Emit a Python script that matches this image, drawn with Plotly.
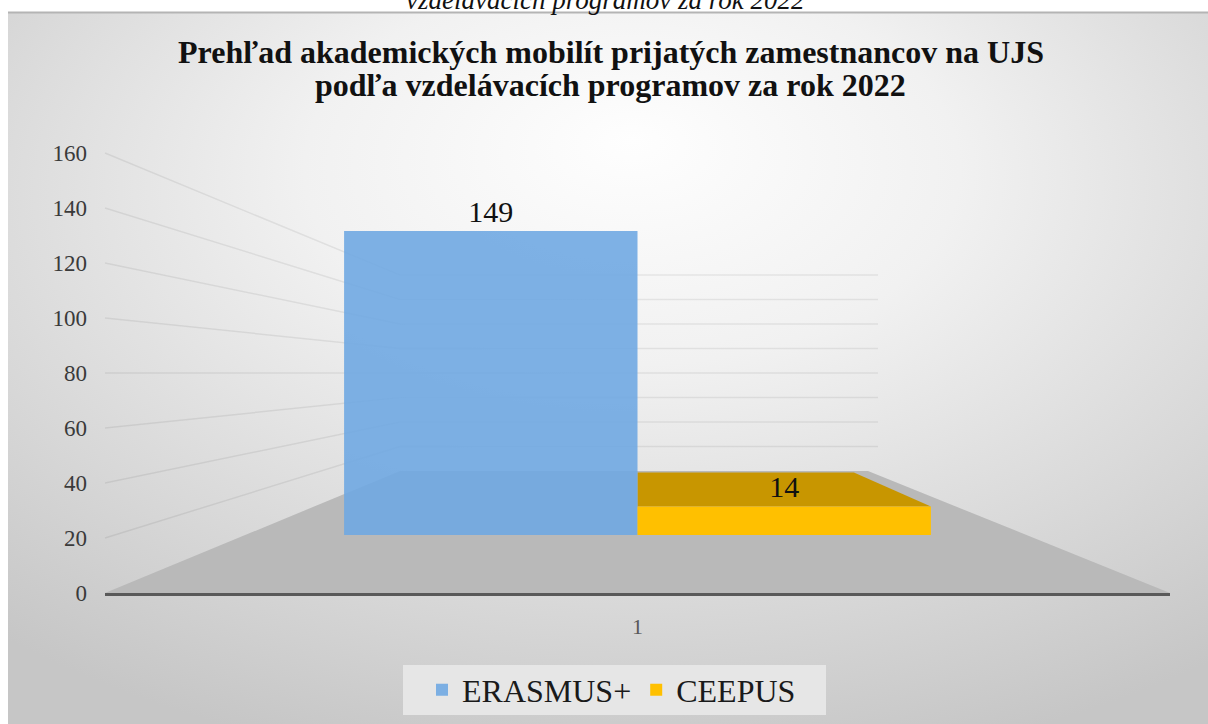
import urllib.parse
import plotly.graph_objects as go

# ---------------- data ----------------
categories = ["1"]
series_names = ["ERASMUS+", "CEEPUS"]
erasmus_values = [149]
ceepus_values = [14]
y_tick_values = [0, 20, 40, 60, 80, 100, 120, 140, 160]
title_lines = ["Prehľad akademických mobilít prijatých zamestnancov na UJS",
               "podľa vzdelávacích programov za rok 2022"]
caption_text = "vzdelávacích programov za rok 2022"

# ---------------- geometry / style (pixels) ----------------
W, H = 1208, 724
FRONT_LEFT, FRONT_RIGHT, FRONT_BASE, FRONT_TOP = 105, 1170, 593, 153
BACK_LEFT, BACK_RIGHT, BACK_BASE = 400, 868, 471
BACK_PX_PER_UNIT = 1.225
BAR_BASE = 535
BAR_PX_PER_UNIT = 2.04
DEPTH_DY, DEPTH_DX = 34, 77
BARGAP = 0.449

FONT = "Liberation Serif, Times New Roman, serif"


def px(x):
    return x / W


def py(y):
    return 1 - y / H


y_max = max(y_tick_values)
front_px_per_unit = (FRONT_BASE - FRONT_TOP) / y_max
bar_range_top = (BAR_BASE - FRONT_TOP) / BAR_PX_PER_UNIT


def front_y(v):
    return FRONT_BASE - v * front_px_per_unit


def back_y(v):
    return BACK_BASE - v * BACK_PX_PER_UNIT


def bar_y(v):
    return BAR_BASE - v * BAR_PX_PER_UNIT


cat_px = FRONT_RIGHT - FRONT_LEFT
bar_w_px = (1 - BARGAP) * cat_px / 2
cat_center = FRONT_LEFT + cat_px / 2

fig = go.Figure()
colors = ["rgba(112,168,226,0.9)", "#ffc000"]
for name, vals, col in zip(series_names, [erasmus_values, ceepus_values], colors):
    fig.add_trace(go.Bar(
        x=categories, y=vals, name=name, xaxis="x", yaxis="y2",
        marker=dict(color=col, line=dict(width=0)),
        texttemplate="%{y}", textposition="outside", cliponaxis=False,
        textfont=dict(family=FONT, size=30, color="#111111"),
    ))
# invisible trace so that the front value axis (ticks 0..160) is drawn
fig.add_trace(go.Scatter(x=categories, y=[y_max], xaxis="x", yaxis="y", mode="markers",
                         marker=dict(opacity=0), showlegend=False, hoverinfo="skip"))

shapes = []
# floor
shapes.append(dict(
    type="path", xref="paper", yref="paper", layer="below",
    path=f"M {px(FRONT_LEFT)},{py(FRONT_BASE)} L {px(BACK_LEFT)},{py(BACK_BASE)} "
         f"L {px(BACK_RIGHT)},{py(BACK_BASE)} L {px(FRONT_RIGHT)},{py(FRONT_BASE)} Z",
    fillcolor="#b9b9b9", line=dict(width=0)))
# wall gridlines
for v in y_tick_values[1:]:
    shapes.append(dict(type="line", xref="paper", yref="paper", layer="below",
                       x0=px(FRONT_LEFT), y0=py(front_y(v)), x1=px(BACK_LEFT), y1=py(back_y(v)),
                       line=dict(color="rgba(0,0,0,0.07)", width=1.5)))
    shapes.append(dict(type="line", xref="paper", yref="paper", layer="below",
                       x0=px(BACK_LEFT), y0=py(back_y(v)), x1=px(BACK_RIGHT + 10), y1=py(back_y(v)),
                       line=dict(color="rgba(0,0,0,0.07)", width=1.5)))
# top face of the CEEPUS bar (visible depth)
for v in ceepus_values:
    x0 = cat_center
    x1 = cat_center + bar_w_px
    yf = bar_y(v)
    yb = yf - DEPTH_DY
    shapes.append(dict(
        type="path", xref="paper", yref="paper", layer="below",
        path=f"M {px(x0)},{py(yf)} L {px(x1)},{py(yf)} L {px(x1 - DEPTH_DX)},{py(yb)} "
             f"L {px(x0)},{py(yb)} Z",
        fillcolor="#c89600", line=dict(width=0)))
# legend background box
shapes.append(dict(type="rect", xref="paper", yref="paper", layer="below",
                   x0=px(403), x1=px(826), y0=py(715), y1=py(665),
                   fillcolor="#e6e6e6", line=dict(width=0)))
# top border of panel
shapes.append(dict(type="line", xref="paper", yref="paper", layer="above",
                   x0=px(8), x1=1, y0=py(12.5), y1=py(12.5),
                   line=dict(color="#b4b4b4", width=2)))

svg = ("<svg xmlns='http://www.w3.org/2000/svg' width='1200' height='712' preserveAspectRatio='none'>"
       "<defs><radialGradient id='g' cx='0.52' cy='0.3' r='0.78' fx='0.52' fy='0.18'>"
       "<stop offset='0' stop-color='#fefefe'/><stop offset='0.35' stop-color='#f1f1f1'/>"
       "<stop offset='1' stop-color='#c6c6c6'/></radialGradient></defs>"
       "<rect width='100%' height='100%' fill='url(#g)'/></svg>")
bg_src = "data:image/svg+xml;charset=utf-8," + urllib.parse.quote(svg)

TITLE_SIZE = 32
title_baselines = [62, 95]
annotations = []
for line, base in zip(title_lines, title_baselines):
    annotations.append(dict(text=f"<b>{line}</b>", xref="paper", yref="paper", x=px(611),
                            y=py(base - 0.3 * TITLE_SIZE), xanchor="center", yanchor="middle",
                            showarrow=False, font=dict(family=FONT, size=TITLE_SIZE, color="#111111")))
annotations.append(dict(text=f"<i>{caption_text}</i>", xref="paper", yref="paper", x=px(605),
                        y=py(0), xanchor="center", yanchor="middle", showarrow=False,
                        font=dict(family=FONT, size=27, color="#111111")))

fig.update_layout(
    width=W, height=H,
    margin=dict(l=0, r=0, t=0, b=0, autoexpand=False),
    paper_bgcolor="white", plot_bgcolor="rgba(0,0,0,0)",
    barmode="group", bargap=BARGAP, bargroupgap=0,
    images=[dict(source=bg_src, xref="paper", yref="paper", x=px(8), y=py(12),
                 sizex=1 - px(8), sizey=py(12), xanchor="left", yanchor="top",
                 sizing="stretch", layer="below")],
    shapes=shapes,
    xaxis=dict(domain=[px(FRONT_LEFT), px(FRONT_RIGHT)], anchor="y", type="category",
               showline=True, linecolor="#595959", linewidth=3, showgrid=False,
               ticks="", ticklabelstandoff=12,
               tickfont=dict(family=FONT, size=22, color="#595959")),
    yaxis=dict(domain=[py(FRONT_BASE), py(FRONT_TOP)], anchor="x", range=[0, y_max],
               tickvals=y_tick_values, showgrid=False, zeroline=False, showline=False,
               ticks="", ticklabelstandoff=17,
               tickfont=dict(family=FONT, size=23, color="#3a3a3a")),
    yaxis2=dict(domain=[py(BAR_BASE), py(FRONT_TOP)], anchor="x", range=[0, bar_range_top],
                visible=False, showgrid=False),
    showlegend=True,
    legend=dict(orientation="h", x=px(422), xanchor="left", y=py(690), yanchor="middle",
                bgcolor="rgba(0,0,0,0)", font=dict(family=FONT, size=32, color="#1a1a1a"),
                itemsizing="constant"),
    annotations=annotations,
)

fig.write_html("out.html", config={"displayModeBar": False},
               post_script="document.body.style.margin='0px';")
